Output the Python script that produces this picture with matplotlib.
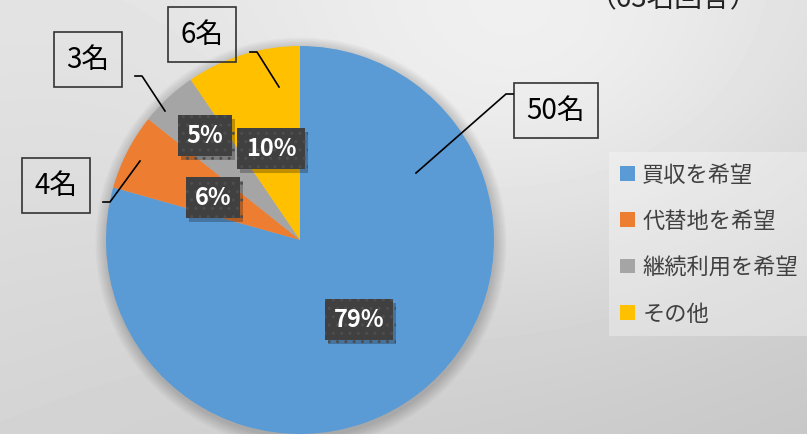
import numpy as np
import matplotlib
matplotlib.use("Agg")
import matplotlib.pyplot as plt
import matplotlib.patheffects as pe
from matplotlib.patches import Circle

plt.rcParams['font.family'] = ['Noto Sans CJK JP', 'DejaVu Sans']

# data
categories = ["買収を希望", "代替地を希望", "継続利用を希望", "その他"]
counts = [50, 4, 3, 6]
colors = ["#5B9BD5", "#ED7D31", "#A5A5A5", "#FFC000"]
title = "（63名回答）"

W, H = 807, 435
fig = plt.figure(figsize=(W / 100, H / 100), dpi=100)
ax = fig.add_axes([0, 0, 1, 1])

# background: corner shading plus a soft highlight near the top right
yy, xx = np.mgrid[0:H, 0:W]
u, v = xx / W, yy / H  # v = 0 at top (origin upper)
bg = (0.89 * (1 - u) * (1 - v) + 0.85 * u * (1 - v)
      + 0.83 * (1 - u) * v + 0.78 * u * v)
bg += 0.08 * np.exp(-(((xx - 540) / 300) ** 2 + ((yy - 60) / 230) ** 2))
ax.imshow(bg, cmap="gray", vmin=0, vmax=1, extent=[0, W, 0, H], origin="upper", zorder=0)

def py(y):
    # pixel row -> data y
    return H - y

cx, cy, r = 300, py(241), 194

# soft shadow behind the pie
for k in range(8):
    ax.add_patch(Circle((cx + 1, cy - 3), r + 1 + k * 1.5, color="black", alpha=0.025, lw=0, zorder=1))

wedges, _ = ax.pie(counts, colors=colors, startangle=90, counterclock=False,
                   center=(cx, cy), radius=r, frame=True,
                   wedgeprops=dict(linewidth=0))
for w in wedges:
    w.set_zorder(2)
ax.set_xlim(0, W)
ax.set_ylim(0, H)
ax.set_aspect("equal")
ax.axis("off")

total = sum(counts)
pcts = [f"{round(c / total * 100)}%" for c in counts]

# percentage labels (dark boxes)
pct_pos = [(359, 320), (213, 198), (205, 136), (271, 149)]
for (x, y), t in zip(pct_pos, pcts):
    txt = ax.text(x, py(y), t, fontsize=17, fontweight="bold", color="white",
                  ha="center", va="center", zorder=4,
                  bbox=dict(boxstyle="square,pad=0.36", fc="#404040", ec="#4e4e4e",
                            lw=0, hatch=".."))
    txt.get_bbox_patch().set_path_effects(
        [pe.SimplePatchShadow(offset=(2, -3), alpha=0.25, shadow_rgbFace="black"), pe.Normal()])

# count callouts
cnt_pos = [(556, 111), (56, 186), (88, 60), (202, 35)]
leaders = [
    [(513, 95), (506, 95), (416, 174)],
    [(103, 203), (110, 203), (140, 162)],
    [(135, 77), (142, 77), (165, 112)],
    [(250, 53), (257, 53), (279, 88)],
]
for (x, y), c, ln in zip(cnt_pos, counts, leaders):
    ax.text(x, py(y), f"{c}名", fontsize=20, color="black", ha="center", va="center",
            zorder=5,
            bbox=dict(boxstyle="square,pad=0.45", fc="none", ec="#333333", lw=1.2))
    xs = [p[0] for p in ln]
    ys = [py(p[1]) for p in ln]
    ax.plot(xs, ys, color="black", lw=1.2, zorder=5)

# partially visible title
ax.text(673, py(7), title, fontsize=20, color="#222222", ha="center", va="baseline", zorder=5)

# legend
leg = ax.legend(wedges, categories, loc="upper left", bbox_to_anchor=(609 / W, 1 - 153 / H),
                frameon=True, fontsize=16, handlelength=0.65, handleheight=0.65,
                handletextpad=0.35, labelspacing=1.05, borderpad=0.5, borderaxespad=0)
leg.get_frame().set_facecolor("white")
leg.get_frame().set_alpha(0.3)
leg.get_frame().set_linewidth(0)
leg.get_frame().set_boxstyle("square,pad=0")
for t in leg.get_texts():
    t.set_color("#404040")

fig.savefig("out.png", dpi=100)
